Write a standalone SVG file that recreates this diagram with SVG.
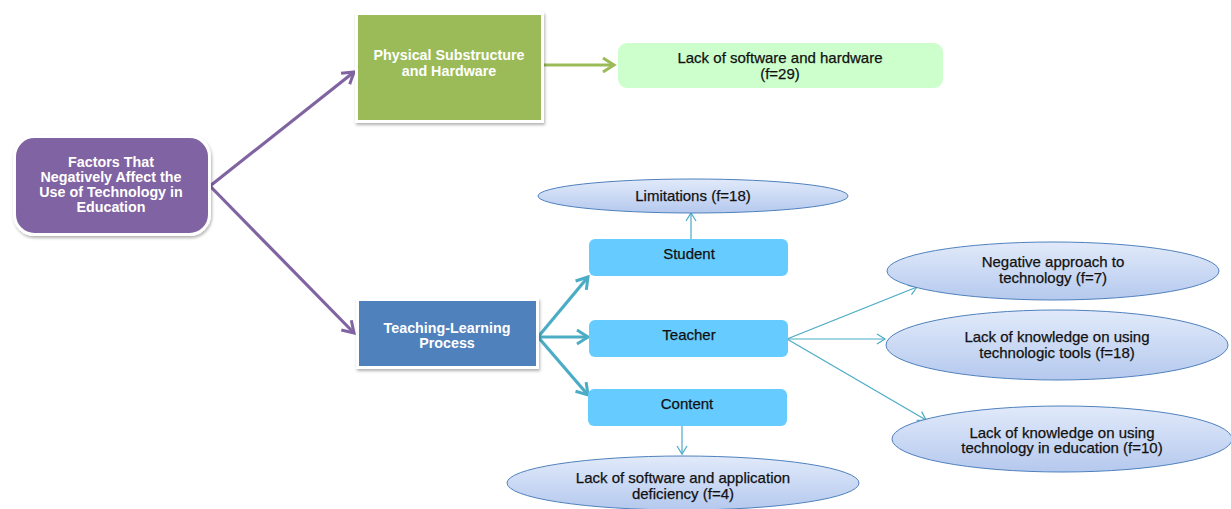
<svg xmlns="http://www.w3.org/2000/svg" width="1231" height="509" viewBox="0 0 1231 509">
<style>
text{font-family:"Liberation Sans",Arial,sans-serif;text-anchor:middle}
.w{fill:#fff;font-weight:bold;font-size:14.3px}
.d{fill:#111;font-size:15px;stroke:#111;stroke-width:0.25}
.main{stroke:#fff;stroke-width:3;filter:url(#sh)}
.lb{fill:#66CCFF}
.el{fill:url(#eg);stroke:#4F81BD;stroke-width:1}
.thick{fill:none;stroke-width:3.2}
.thin{fill:none;stroke:#4BACC6;stroke-width:1.2}
</style>
<defs>
<filter id="sh" x="-10%" y="-10%" width="125%" height="130%">
<feDropShadow dx="1" dy="2" stdDeviation="1.5" flood-color="#000" flood-opacity="0.3"/>
</filter>
<linearGradient id="eg" x1="0" y1="0" x2="0" y2="1">
<stop offset="0" stop-color="#E1EAFA"/>
<stop offset="1" stop-color="#B5C9EE"/>
</linearGradient>
<marker id="mp" markerUnits="userSpaceOnUse" markerWidth="20" markerHeight="20" viewBox="-14 -10 16 20" refX="0" refY="0" orient="auto">
<path d="M-11,-7 L0,0 L-11,7" fill="none" stroke="#8064A2" stroke-width="3"/>
</marker>
<marker id="mg" markerUnits="userSpaceOnUse" markerWidth="20" markerHeight="20" viewBox="-14 -10 16 20" refX="0" refY="0" orient="auto">
<path d="M-11,-7 L0,0 L-11,7" fill="none" stroke="#9BBB59" stroke-width="3"/>
</marker>
<marker id="mt" markerUnits="userSpaceOnUse" markerWidth="20" markerHeight="20" viewBox="-14 -10 16 20" refX="0" refY="0" orient="auto">
<path d="M-11,-7 L0,0 L-11,7" fill="none" stroke="#4BACC6" stroke-width="3"/>
</marker>
<marker id="ms" markerUnits="userSpaceOnUse" markerWidth="14" markerHeight="14" viewBox="-10 -7 12 14" refX="0" refY="0" orient="auto">
<path d="M-8,-5 L0,0 L-8,5" fill="none" stroke="#4BACC6" stroke-width="1.2"/>
</marker>
</defs>

<g id="connectors">
<line class="thick" stroke="#8064A2" x1="210" y1="186" x2="354" y2="72" marker-end="url(#mp)"/>
<line class="thick" stroke="#8064A2" x1="210" y1="186" x2="354" y2="333" marker-end="url(#mp)"/>
<line class="thick" stroke="#9BBB59" x1="544" y1="65" x2="614" y2="65" marker-end="url(#mg)"/>
<line class="thick" stroke="#4BACC6" x1="538" y1="337" x2="588" y2="277" marker-end="url(#mt)"/>
<line class="thick" stroke="#4BACC6" x1="538" y1="337" x2="588" y2="337" marker-end="url(#mt)"/>
<line class="thick" stroke="#4BACC6" x1="538" y1="337" x2="588" y2="395" marker-end="url(#mt)"/>
<line class="thin" x1="691" y1="239" x2="691" y2="213" marker-end="url(#ms)"/>
<line class="thin" x1="682" y1="426" x2="682" y2="454" marker-end="url(#ms)"/>
<line class="thin" x1="787" y1="339" x2="917" y2="287" marker-end="url(#ms)"/>
<line class="thin" x1="787" y1="339" x2="885" y2="339" marker-end="url(#ms)"/>
<line class="thin" x1="787" y1="339" x2="926" y2="420" marker-end="url(#ms)"/>
</g>

<g id="factors">
<rect class="main" x="14.5" y="136.5" width="195" height="98" rx="20" fill="#8064A2"/>
<text class="w" x="111" y="167">Factors That</text>
<text class="w" x="111" y="182">Negatively Affect the</text>
<text class="w" x="111" y="197">Use of Technology in</text>
<text class="w" x="111" y="212">Education</text>
</g>

<g id="physical">
<rect class="main" x="356.5" y="13.5" width="186" height="108" fill="#9BBB59"/>
<text class="w" x="449" y="60">Physical Substructure</text>
<text class="w" x="449" y="76">and Hardware</text>
</g>

<g id="lack-hw">
<rect x="618" y="43" width="325" height="45" rx="9" fill="#CCFFCC"/>
<text class="d" x="780" y="63">Lack of software and hardware</text>
<text class="d" x="780" y="79">(f=29)</text>
</g>

<g id="teaching">
<rect class="main" x="357.5" y="299.5" width="180" height="68" fill="#4F81BD"/>
<text class="w" x="447" y="333">Teaching-Learning</text>
<text class="w" x="447" y="348">Process</text>
</g>

<g id="limitations">
<ellipse class="el" cx="693" cy="196" rx="155" ry="17"/>
<text class="d" x="693" y="201">Limitations (f=18)</text>
</g>

<g id="student">
<rect class="lb" x="589" y="239" width="199" height="37" rx="6"/>
<text class="d" x="689" y="259">Student</text>
</g>

<g id="teacher">
<rect class="lb" x="589" y="320" width="199" height="37" rx="6"/>
<text class="d" x="689" y="340">Teacher</text>
</g>

<g id="content">
<rect class="lb" x="588" y="389" width="199" height="37" rx="6"/>
<text class="d" x="687" y="409">Content</text>
</g>

<g id="lack-app">
<ellipse class="el" cx="683" cy="483" rx="176" ry="27"/>
<text class="d" x="683" y="483">Lack of software and application</text>
<text class="d" x="683" y="499">deficiency (f=4)</text>
</g>

<g id="negative">
<ellipse class="el" cx="1053" cy="271" rx="166" ry="29"/>
<text class="d" x="1053" y="267">Negative approach to</text>
<text class="d" x="1053" y="283">technology (f=7)</text>
</g>

<g id="lack-tools">
<ellipse class="el" cx="1057" cy="345" rx="171" ry="35"/>
<text class="d" x="1057" y="342">Lack of knowledge on using</text>
<text class="d" x="1057" y="358">technologic tools (f=18)</text>
</g>

<g id="lack-edu">
<ellipse class="el" cx="1062" cy="439" rx="170" ry="33"/>
<text class="d" x="1062" y="438">Lack of knowledge on using</text>
<text class="d" x="1062" y="453">technology in education (f=10)</text>
</g>
</svg>
